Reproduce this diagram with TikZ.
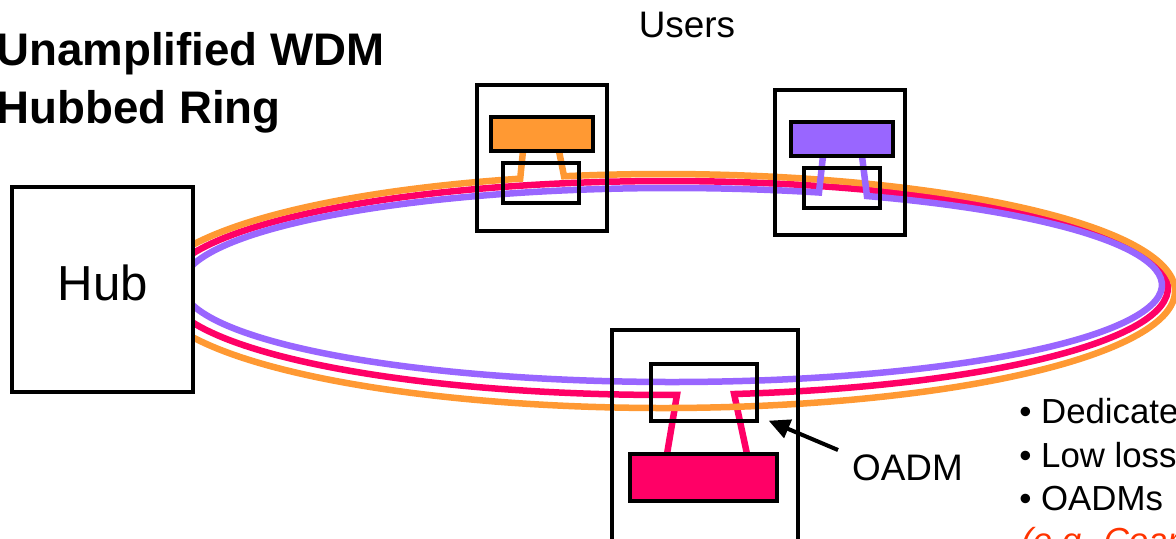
\documentclass[tikz,border=0pt]{standalone}
\usepackage{fontspec}
\setmainfont{Liberation Sans}
\usepackage{tikz}
\usetikzlibrary{positioning}
\usetikzlibrary{arrows.meta}

\definecolor{ringorange}{RGB}{255,153,51}
\definecolor{ringred}{RGB}{255,0,102}
\definecolor{ringpurple}{RGB}{153,102,255}
\definecolor{notered}{RGB}{255,51,0}

\begin{document}
\begin{tikzpicture}[x=0.02cm, y=-0.02cm,
    box/.style={draw=black, line width=1.9pt, inner sep=0pt},
    ring/.style={line width=3.7pt, line join=miter},
    txt/.style={inner sep=0pt, font=\fontsize{21}{25}\selectfont},
    bulletline/.style={anchor=base west, inner sep=0pt, font=\fontsize{19.8}{24}\selectfont}]
    \useasboundingbox (0, 0) rectangle (1176, 538);

    % centres of the three fibres
    \coordinate (co) at (663, 291);
    \coordinate (cr) at (667, 288);
    \coordinate (cp) at (672, 285);

    \draw[ring, ringred] (667, 454) -- ([shift={(-88.86:10.02cm and 2.14cm)}]cr)
        arc[start angle=-88.86, end angle=-442.3, x radius=10.02cm, y radius=2.14cm] -- (747, 454);
    \draw[ring, ringorange] (523, 151) -- ([shift={(106.2:10.24cm and 2.34cm)}]co)
        arc[start angle=106.2, end angle=461.15, x radius=10.24cm, y radius=2.34cm] -- (559, 151);
    \draw[ring, ringpurple] (823, 156) -- ([shift={(72.54:9.8cm and 1.94cm)}]cp)
        arc[start angle=72.54, end angle=426.55, x radius=9.8cm, y radius=1.94cm] -- (862, 156);

    % hub
    \node[box, fill=white, minimum width=3.62cm, minimum height=4.1cm] (hub) at (102.5, 289.5) {};
    \node[anchor=base, inner sep=0pt, font=\fontsize{28}{32}\selectfont] (hublbl) at (103, 300) {Hub};

    % user nodes
    \node[box, minimum width=2.6cm, minimum height=2.92cm] (usrA) at (542, 158) {};
    \node[box, fill=ringorange, minimum width=2.04cm, minimum height=0.68cm] (txA) at (542, 134) {};
    \node[box, minimum width=1.52cm, minimum height=0.8cm] (adA) at (541, 183) {};

    \node[box, minimum width=2.6cm, minimum height=2.9cm] (usrB) at (840, 162.5) {};
    \node[box, fill=ringpurple, minimum width=2.04cm, minimum height=0.68cm] (txB) at (842, 139) {};
    \node[box, minimum width=1.52cm, minimum height=0.8cm] (adB) at (842, 188) {};

    \node[box, minimum width=3.72cm, minimum height=4.9cm] (usrC) at (705, 452.5) {};
    \node[box, minimum width=2.12cm, minimum height=1.14cm] (adC) at (704, 392.5) {};
    \node[box, fill=ringred, minimum width=2.94cm, minimum height=0.94cm] (txC) at (703.5, 477.5) {};

    \node[txt, anchor=base] (users) at (687, 37) {Users};
    \node[txt, anchor=base] (oadmlbl) at (907.5, 480) {OADM};
    \coordinate (arwtail) at (838, 450);
    \draw[line width=2.3pt, -{Triangle[length=12pt, width=11pt]}] (arwtail) -- ([shift={(0.2cm, 0.04cm)}]adC.south east);

    % title
    \node[anchor=base west, inner sep=0pt, font=\fontsize{26}{32}\selectfont\bfseries] (title1) at (-4, 65) {Unamplified WDM};
    \node[anchor=base west, inner sep=0pt, font=\fontsize{26}{32}\selectfont\bfseries] (title2) at (-4, 123) {Hubbed Ring};

    % notes
    \node[bulletline] (n1) at (1019, 423) {• Dedicated};
    \node[bulletline] (n2) at (1019, 467) {• Low loss};
    \node[bulletline] (n3) at (1019, 510) {• OADMs};
    \node[bulletline, text=notered, font=\fontsize{19.8}{24}\selectfont\itshape] (n4) at (1021, 552) {(e.g. Coarse};
\end{tikzpicture}
\end{document}
